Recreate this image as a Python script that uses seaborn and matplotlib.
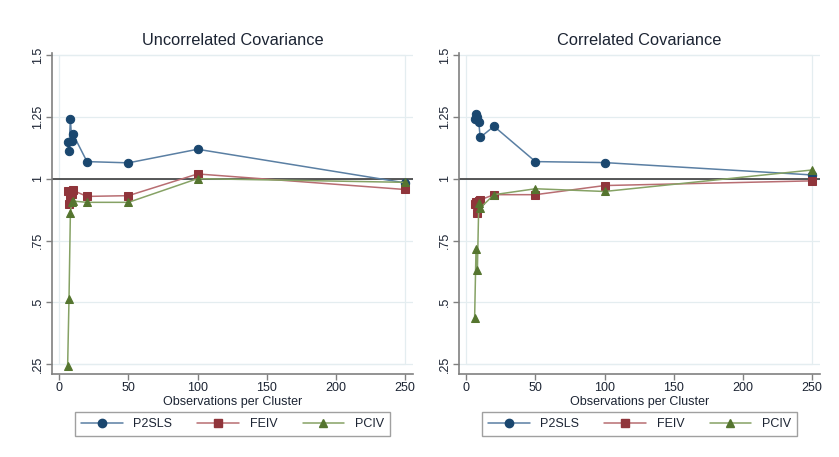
import matplotlib
matplotlib.use("Agg")
import matplotlib.pyplot as plt
from matplotlib.lines import Line2D
from matplotlib.patches import Rectangle
import pandas as pd
import seaborn as sns

# Observaciones por cluster (eje x)
obs = [6, 7, 8, 9, 10, 20, 50, 100, 250]

# Panel izquierdo: covarianza no correlacionada
uncorr_p2sls = [1.150, 1.114, 1.243, 1.153, 1.180, 1.070, 1.065, 1.120, 0.984]
uncorr_feiv = [0.950, 0.900, 0.925, 0.940, 0.953, 0.929, 0.932, 1.020, 0.957]
uncorr_pciv = [0.240, 0.513, 0.862, 0.905, 0.910, 0.905, 0.905, 1.001, 0.986]

# Panel derecho: covarianza correlacionada
corr_p2sls = [1.244, 1.264, 1.250, 1.231, 1.168, 1.213, 1.070, 1.066, 1.016]
corr_feiv = [0.898, 0.905, 0.862, 0.912, 0.915, 0.936, 0.936, 0.973, 0.992]
corr_pciv = [0.436, 0.715, 0.630, 0.902, 0.882, 0.936, 0.960, 0.949, 1.036]

estimators = ["P2SLS", "FEIV", "PCIV"]
panel_titles = ["Uncorrelated Covariance", "Correlated Covariance"]
ytick_vals = [0.25, 0.5, 0.75, 1.0, 1.25, 1.5]
ytick_labels = [".25", ".5", ".75", "1", "1.25", "1.5"]
xtick_vals = [0, 50, 100, 150, 200, 250]

COLORS = {"P2SLS": "#1a476f", "FEIV": "#90353b", "PCIV": "#55752f"}
LINE_COLORS = {"P2SLS": "#5a7fa3", "FEIV": "#b86d72", "PCIV": "#86a265"}
MARKERS = {"P2SLS": "o", "FEIV": "s", "PCIV": "^"}
GRID = "#e4edf0"
AXIS = "#808080"
TEXT = "#1c2433"


def build_df(p2sls, feiv, pciv):
    frames = []
    for name, vals in zip(estimators, [p2sls, feiv, pciv]):
        frames.append(pd.DataFrame({"obs": obs, "ratio": vals, "Estimator": name}))
    return pd.concat(frames, ignore_index=True)


panels = [
    build_df(uncorr_p2sls, uncorr_feiv, uncorr_pciv),
    build_df(corr_p2sls, corr_feiv, corr_pciv),
]

sns.set_style("white")
plt.rcParams["font.family"] = ["Liberation Sans", "DejaVu Sans"]

fig = plt.figure(figsize=(8.39, 4.57), dpi=100)
ax_pos = [
    [52 / 839, 1 - 374 / 457, 361 / 839, 321 / 457],
    [459 / 839, 1 - 374 / 457, 361 / 839, 321 / 457],
]

for pos, df, title in zip(ax_pos, panels, panel_titles):
    ax = fig.add_axes(pos)
    ax.set_xlim(-5.3, 255.8)
    ax.set_ylim(0.2095, 1.51)

    for y in ytick_vals:
        ax.axhline(y, color=GRID, lw=0.9, zorder=0)
    ax.add_patch(Rectangle((0, 0.25), 250, 1.25, fill=False, ec=GRID, lw=0.9, zorder=0))
    ax.axhline(1, color="#2b2b2b", lw=1.1, zorder=1)

    sns.lineplot(data=df, x="obs", y="ratio", hue="Estimator", style="Estimator",
                 palette=COLORS, markers=MARKERS, dashes=False, markersize=6,
                 lw=1.1, legend=False, ax=ax, zorder=3)
    for line, name in zip(ax.lines[-3:], estimators):
        line.set_markerfacecolor(COLORS[name])
        line.set_markeredgecolor(COLORS[name])
        line.set_color(LINE_COLORS[name])

    ax.set_title(title, fontsize=11.8, color=TEXT, pad=6)
    ax.set_xlabel("Observations per Cluster", fontsize=9, color=TEXT, labelpad=1)
    ax.set_ylabel("")
    ax.set_xticks(xtick_vals)
    ax.set_xticklabels([str(v) for v in xtick_vals])
    ax.set_yticks(ytick_vals)
    ax.set_yticklabels(ytick_labels, rotation=90, va="center")
    ax.tick_params(axis="both", length=4, width=1, color=AXIS, labelsize=9,
                   labelcolor=TEXT, pad=2, direction="out", left=True, bottom=True)

    for side in ["top", "right"]:
        ax.spines[side].set_visible(False)
    for side in ["left", "bottom"]:
        ax.spines[side].set_color(AXIS)
        ax.spines[side].set_linewidth(1.2)

    handles = [
        Line2D([0], [0], color=LINE_COLORS[n], lw=1.1, marker=MARKERS[n],
               markersize=6, markerfacecolor=COLORS[n], markeredgecolor=COLORS[n])
        for n in estimators
    ]
    leg = ax.legend(handles, estimators, ncol=3, loc="center",
                    bbox_to_anchor=(0.5, -0.156), fontsize=9, frameon=True,
                    fancybox=False, edgecolor="#888888", handlelength=3.35,
                    columnspacing=2.0, borderpad=0.45, handletextpad=0.85)
    leg.get_frame().set_linewidth(1.0)
    for t in leg.get_texts():
        t.set_color(TEXT)

fig.savefig("out.png", dpi=100, facecolor="white")
